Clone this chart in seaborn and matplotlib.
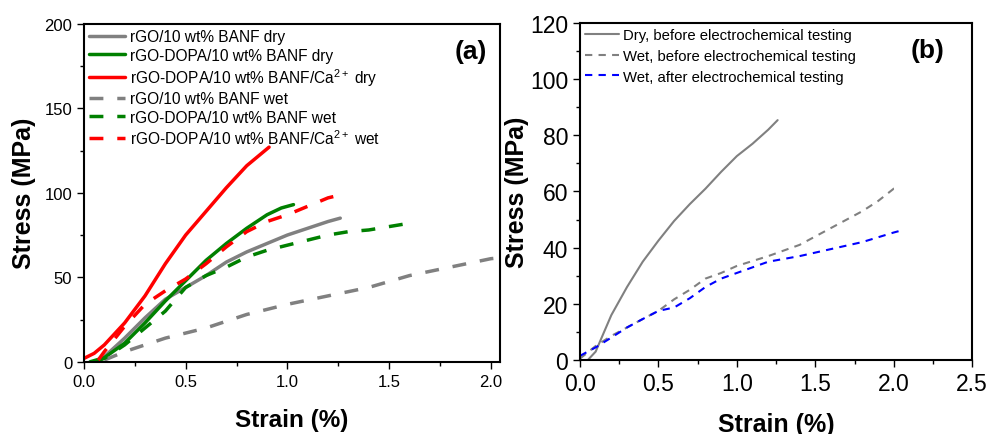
import numpy as np
import pandas as pd
import matplotlib
matplotlib.use("Agg")
import matplotlib.pyplot as plt
import seaborn as sns
from matplotlib.ticker import MultipleLocator

# ---------------- data: panel (a) ----------------
a_rgo_dry_x = [0.07, 0.1, 0.2, 0.3, 0.4, 0.5, 0.6, 0.7, 0.8, 0.9, 1.0, 1.1, 1.2, 1.26]
a_rgo_dry_y = [0, 3, 14, 26, 37, 44, 51, 59, 65, 70, 75, 79, 83, 85]
a_dopa_dry_x = [0.03, 0.1, 0.2, 0.3, 0.4, 0.5, 0.6, 0.7, 0.8, 0.9, 0.97, 1.03]
a_dopa_dry_y = [0, 2.4, 11, 23, 36, 48, 60, 70, 79, 87, 91, 93]
a_ca_dry_x = [0.0, 0.05, 0.1, 0.2, 0.3, 0.4, 0.5, 0.6, 0.7, 0.8, 0.91]
a_ca_dry_y = [2, 5, 10, 23, 39, 58, 75, 89, 103, 116, 127]
a_rgo_wet_x = [0.1, 0.2, 0.4, 0.6, 0.8, 1.0, 1.2, 1.4, 1.6, 1.8, 2.0, 2.04]
a_rgo_wet_y = [1, 6, 14, 20, 28, 34, 39, 44, 51, 56, 61, 61.5]
a_dopa_wet_x = [0.05, 0.1, 0.2, 0.3, 0.4, 0.5, 0.6, 0.7, 0.8, 0.9, 1.0, 1.1, 1.2, 1.3, 1.4, 1.5, 1.6]
a_dopa_wet_y = [0, 2, 10, 20, 30, 44, 51, 56, 62, 66, 69, 72, 75, 77, 78, 80, 82]
a_ca_wet_x = [0.07, 0.1, 0.2, 0.3, 0.4, 0.5, 0.6, 0.7, 0.8, 0.9, 1.0, 1.1, 1.2, 1.27]
a_ca_wet_y = [1, 6, 21, 34, 42, 49, 58, 68, 77, 83, 87, 92, 97, 99]

a_labels = ["rGO/10 wt% BANF dry", "rGO-DOPA/10 wt% BANF dry",
            "rGO-DOPA/10 wt% BANF/Ca$^{2+}$ dry", "rGO/10 wt% BANF wet",
            "rGO-DOPA/10 wt% BANF wet", "rGO-DOPA/10 wt% BANF/Ca$^{2+}$ wet"]

# ---------------- data: panel (b) ----------------
b_dry_x = [0.05, 0.1, 0.2, 0.3, 0.4, 0.5, 0.6, 0.7, 0.8, 0.9, 1.0, 1.1, 1.2, 1.26]
b_dry_y = [0, 3, 16, 26, 35, 42.5, 49.5, 55.5, 61, 67, 72.6, 77, 82, 85.4]
b_wetb_x = [0.0, 0.1, 0.2, 0.3, 0.4, 0.5, 0.6, 0.7, 0.8, 0.9, 1.0, 1.2, 1.4, 1.6, 1.8, 1.9, 2.0, 2.02]
b_wetb_y = [0.5, 5, 8.6, 11.6, 14.6, 17.5, 21.6, 25, 29, 31, 33.5, 37, 41, 47, 53, 56.6, 61, 61]
b_weta_x = [0.0, 0.1, 0.2, 0.3, 0.4, 0.5, 0.6, 0.7, 0.8, 0.9, 1.0, 1.1, 1.2, 1.4, 1.6, 1.8, 2.0, 2.04]
b_weta_y = [1.5, 4.5, 8, 11.6, 14.6, 17.5, 18.7, 22, 26, 29, 31, 33, 35, 37, 39.5, 42, 45.4, 46]
b_labels = ["Dry, before electrochemical testing", "Wet, before electrochemical testing",
            "Wet, after electrochemical testing"]

sns.set_style("ticks")
plt.rcParams['font.family'] = ['Liberation Sans', 'DejaVu Sans']
plt.rcParams['mathtext.fontset'] = 'custom'
plt.rcParams['mathtext.rm'] = 'Liberation Sans'
plt.rcParams['mathtext.it'] = 'Liberation Sans'
plt.rcParams['mathtext.bf'] = 'Liberation Sans:bold'
plt.rcParams['xtick.direction'] = 'out'
plt.rcParams['ytick.direction'] = 'out'
for k in ['text.color', 'axes.labelcolor', 'xtick.color', 'ytick.color', 'axes.edgecolor']:
    plt.rcParams[k] = 'black'

fig = plt.figure(figsize=(9.88, 4.35), dpi=100)
axa = fig.add_axes([0.085, 0.166, 0.421, 0.777])
axb = fig.add_axes([0.587, 0.170, 0.397, 0.775])

gray, green, red, blue = "#808080", "#008000", "#ff0000", "#0000ff"

# panel (a)
series_a = [
    (a_rgo_dry_x, a_rgo_dry_y, gray, "-"),
    (a_dopa_dry_x, a_dopa_dry_y, green, "-"),
    (a_ca_dry_x, a_ca_dry_y, red, "-"),
    (a_rgo_wet_x, a_rgo_wet_y, gray, "--"),
    (a_dopa_wet_x, a_dopa_wet_y, green, "--"),
    (a_ca_wet_x, a_ca_wet_y, red, "--"),
]
for (x, y, c, ls), lab in zip(series_a, a_labels):
    sns.lineplot(x=x, y=y, ax=axa, color=c, sort=False, estimator=None, label=lab, lw=2.5)
    ln = axa.lines[-1]
    if ls == "--":
        ln.set_dashes((4, 4))

axa.set_xlim(0, 2.045)
axa.set_ylim(0, 200)
axa.xaxis.set_major_locator(MultipleLocator(0.5))
axa.xaxis.set_minor_locator(MultipleLocator(0.25))
axa.yaxis.set_major_locator(MultipleLocator(50))
axa.yaxis.set_minor_locator(MultipleLocator(25))
axa.xaxis.set_major_formatter(matplotlib.ticker.FormatStrFormatter('%.1f'))
axa.tick_params(axis='both', which='major', labelsize=12, length=5, width=1, colors='black')
axa.tick_params(axis='both', which='minor', length=3, width=1)
axa.set_xlabel("Strain (%)", fontsize=17.5, fontweight='bold', labelpad=14)
axa.set_ylabel("Stress (MPa)", fontsize=18, fontweight='bold', labelpad=6)
axa.text(0.97, 0.92, "(a)", transform=axa.transAxes, ha='right', va='center',
         fontsize=19, fontweight='bold')
axa.legend(loc='upper left', frameon=False, fontsize=11.2, handlelength=2.3,
           handletextpad=0.3, labelspacing=0.22, borderaxespad=0.15, borderpad=0.2,
           bbox_to_anchor=(0.0, 1.0))
for s in axa.spines.values():
    s.set_linewidth(1.5)
    s.set_color('black')

# panel (b)
series_b = [
    (b_dry_x, b_dry_y, gray, "-"),
    (b_wetb_x, b_wetb_y, gray, "--"),
    (b_weta_x, b_weta_y, blue, "--"),
]
for (x, y, c, ls), lab in zip(series_b, b_labels):
    sns.lineplot(x=x, y=y, ax=axb, color=c, sort=False, estimator=None, label=lab, lw=1.5)
    ln = axb.lines[-1]
    if ls == "--":
        ln.set_dashes((3.5, 3))

axb.set_xlim(0, 2.5)
axb.set_ylim(0, 120)
axb.xaxis.set_major_locator(MultipleLocator(0.5))
axb.xaxis.set_minor_locator(MultipleLocator(0.25))
axb.yaxis.set_major_locator(MultipleLocator(20))
axb.yaxis.set_minor_locator(MultipleLocator(10))
axb.xaxis.set_major_formatter(matplotlib.ticker.FormatStrFormatter('%.1f'))
axb.tick_params(axis='both', which='major', labelsize=16.5, length=5, width=1, colors='black')
axb.tick_params(axis='both', which='minor', length=3, width=1)
axb.set_xlabel("Strain (%)", fontsize=18, fontweight='bold', labelpad=12)
axb.set_ylabel("Stress (MPa)", fontsize=18, fontweight='bold', labelpad=1)
axb.text(0.93, 0.92, "(b)", transform=axb.transAxes, ha='right', va='center',
         fontsize=19, fontweight='bold')
axb.legend(loc='upper left', frameon=False, fontsize=10.7, handlelength=2.3,
           handletextpad=0.25, labelspacing=0.45, borderaxespad=0.1, borderpad=0.25,
           bbox_to_anchor=(0.0, 1.0))
for s in axb.spines.values():
    s.set_linewidth(1.5)
    s.set_color('black')

fig.savefig("out.png", dpi=100)
